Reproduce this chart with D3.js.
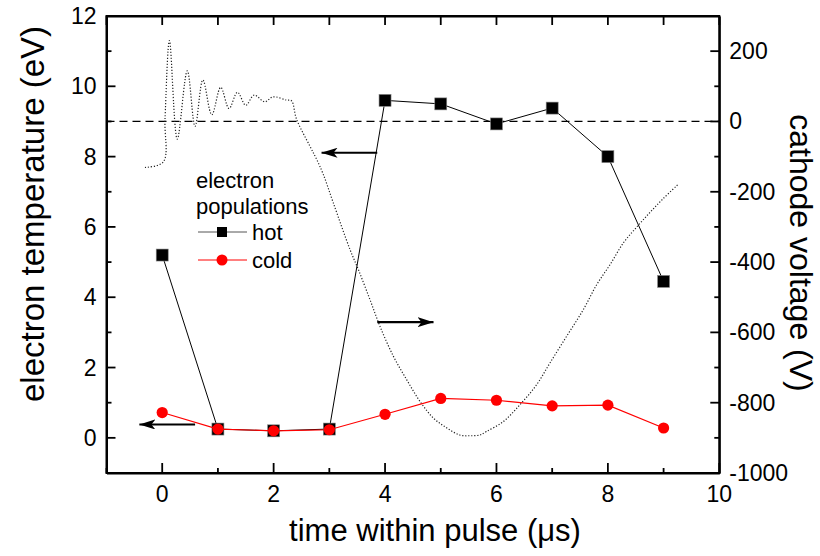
<!DOCTYPE html>
<html><head><meta charset="utf-8">
<script src="https://cdn.jsdelivr.net/npm/d3@7/dist/d3.min.js"></script>
<style>body{margin:0;background:#fff}svg{display:block}text{font-family:"Liberation Sans",Arial,sans-serif}</style>
</head><body><svg id="c" width="820" height="556"></svg>
<script>
// ---- data ----
const times = [0,1,2,3,4,5,6,7,8,9];
const hotTemp = [5.2,0.25,0.2,0.25,9.6,9.5,8.93,9.38,8.0,4.45];
const coldTemp = [0.72,0.25,0.2,0.23,0.67,1.12,1.07,0.91,0.93,0.28];
const voltTime = [-0.31,0.02,0.05,0.13,0.27,0.45,0.59,0.73,0.89,1.05,1.20,1.35,1.50,1.65,1.84,1.99,2.23,2.32,2.41,2.65,2.77,2.89,3.07,3.37,3.52,3.73,3.91,4.15,4.39,4.63,4.87,5.11,5.34,5.52,5.70,5.82,6.12,6.42,6.72,6.96,7.26,7.56,7.80,8.04,8.28,8.52,8.76,8.99,9.26];
const voltValue = [-131,-115,7,230,-50,144,-14,118,19,97,37,83,46,75,56,70,61,59,7,-70,-107,-150,-231,-364,-421,-507,-583,-668,-735,-797,-844,-872,-892,-894,-892,-882,-854,-806,-749,-687,-611,-535,-464,-407,-345,-300,-258,-220,-179];
const xTicks = [0,2,4,6,8,10];
const yLeftTicks = [0,2,4,6,8,10,12];
const yRightTicks = [-1000,-800,-600,-400,-200,0,200];
const zeroVoltLine = 0;
// annotation arrows (time, left-axis temperature)
const arrowStart = [[3.86,8.11],[3.86,3.29],[0.59,0.38]];
const arrowEnd   = [[2.86,8.11],[4.87,3.29],[-0.41,0.38]];
const legendTitle = ["electron","populations"];
const seriesNames = ["hot","cold"];

// ---- layout ----
const L=106.5, R=719.3, T=16, B=473;
const svg=d3.select("#c");
const x=d3.scaleLinear().domain([-1,10]).range([L,R]);
const yL=d3.scaleLinear().domain([-1,12]).range([B,T]);
const yR=d3.scaleLinear().domain([-1000,300]).range([B,T]);

const defs=svg.append("defs");
defs.append("marker").attr("id","ah").attr("viewBox","0 0 16 10").attr("refX",16).attr("refY",5)
 .attr("markerWidth",16).attr("markerHeight",10).attr("markerUnits","userSpaceOnUse").attr("orient","auto")
 .append("path").attr("d","M0,0 L16,5 L0,10 L4,5 Z").attr("fill","#000");

// dashed zero-volt line
svg.append("line").attr("x1",L).attr("x2",R).attr("y1",yR(zeroVoltLine)).attr("y2",yR(zeroVoltLine))
 .attr("stroke","#000").attr("stroke-width",1.3).attr("stroke-dasharray","8,5");

// voltage trace
const vData=voltTime.map((t,i)=>[t,voltValue[i]]);
svg.append("path").datum(vData)
 .attr("d",d3.line().x(d=>x(d[0])).y(d=>yR(d[1])).curve(d3.curveCatmullRom.alpha(0.5)))
 .attr("fill","none").attr("stroke","#222").attr("stroke-width",1.2).attr("stroke-dasharray","1.2,1.8");

// hot series
const hot=times.map((t,i)=>[t,hotTemp[i]]);
const cold=times.map((t,i)=>[t,coldTemp[i]]);
const ln=d3.line().x(d=>x(d[0])).y(d=>yL(d[1]));
svg.append("path").datum(hot).attr("d",ln).attr("fill","none").attr("stroke","#000").attr("stroke-width",1);
svg.selectAll(".sq").data(hot).join("rect").attr("x",d=>x(d[0])-6).attr("y",d=>yL(d[1])-6)
 .attr("width",12).attr("height",12).attr("fill","#000").attr("stroke","#888").attr("stroke-width",0.6);
// cold series
svg.append("path").datum(cold).attr("d",ln).attr("fill","none").attr("stroke","#f00").attr("stroke-width",1.2);
svg.selectAll(".ci").data(cold).join("circle").attr("cx",d=>x(d[0])).attr("cy",d=>yL(d[1])).attr("r",5.6)
 .attr("fill","#f00");

// arrows
arrowStart.forEach((s,i)=>{
  const e=arrowEnd[i];
  svg.append("line").attr("x1",x(s[0])).attr("y1",yL(s[1])).attr("x2",x(e[0])).attr("y2",yL(e[1]))
   .attr("stroke","#000").attr("stroke-width",2.2).attr("marker-end","url(#ah)");
});

// axes
const fs="23px";
const gB=svg.append("g").attr("transform",`translate(0,${B})`).call(d3.axisBottom(x).tickValues([]).tickSize(0));
const gT=svg.append("g").attr("transform",`translate(0,${T})`).call(d3.axisTop(x).tickValues([]).tickSize(0));
const gLa=svg.append("g").attr("transform",`translate(${L},0)`).call(d3.axisLeft(yL).tickValues([]).tickSize(0));
const gRa=svg.append("g").attr("transform",`translate(${R},0)`).call(d3.axisRight(yR).tickValues([]).tickSize(0));
[gB,gT,gLa,gRa].forEach(g=>{g.select(".domain").attr("stroke","#000").attr("stroke-width",2);});
svg.append("rect").attr("x",L).attr("y",T).attr("width",R-L).attr("height",B-T).attr("fill","none").attr("stroke","#000").attr("stroke-width",2);

const tk=svg.append("g").attr("stroke","#000").attr("stroke-width",1.8);
d3.range(-1,11).forEach(v=>{
  const major=v%2===0, len=major?10:5;
  tk.append("line").attr("x1",x(v)).attr("x2",x(v)).attr("y1",B).attr("y2",B-len);
  tk.append("line").attr("x1",x(v)).attr("x2",x(v)).attr("y1",T).attr("y2",T+9);
});
d3.range(-1,13).forEach(v=>{
  const major=v%2===0, len=major?9:5;
  tk.append("line").attr("x1",L).attr("x2",L+len).attr("y1",yL(v)).attr("y2",yL(v));
});
d3.range(-1000,301,100).forEach(v=>{
  const major=v%200===0, len=major?9:5;
  tk.append("line").attr("x1",R).attr("x2",R-len).attr("y1",yR(v)).attr("y2",yR(v));
});

svg.selectAll(".xl").data(xTicks).join("text").attr("x",d=>x(d)).attr("y",B+29).attr("text-anchor","middle")
 .attr("font-size",fs).text(d=>d);
svg.selectAll(".yl").data(yLeftTicks).join("text").attr("x",L-10).attr("y",d=>yL(d)+8).attr("text-anchor","end")
 .attr("font-size",fs).text(d=>d);
svg.selectAll(".yr").data(yRightTicks).join("text").attr("x",R+10).attr("y",d=>yR(d)+8).attr("text-anchor","start")
 .attr("font-size",fs).text(d=>d);

// titles
svg.append("text").attr("x",435).attr("y",541).attr("text-anchor","middle").attr("font-size","31px").text("time within pulse (\u03bcs)");
svg.append("text").attr("transform","translate(44,214) rotate(-90)").attr("text-anchor","middle").attr("font-size","33px").text("electron temperature (eV)");
svg.append("text").attr("transform","translate(790,253) rotate(90)").attr("text-anchor","middle").attr("font-size","32px").text("cathode voltage (V)");

// legend
const lg=svg.append("g");
lg.append("text").attr("x",196).attr("y",188).attr("font-size","22px").text(legendTitle[0]);
lg.append("text").attr("x",196).attr("y",214).attr("font-size","22px").text(legendTitle[1]);
lg.append("line").attr("x1",198).attr("x2",247).attr("y1",232).attr("y2",232).attr("stroke","#555").attr("stroke-width",1);
lg.append("rect").attr("x",217).attr("y",227).attr("width",10).attr("height",10).attr("fill","#000");
lg.append("text").attr("x",252).attr("y",240).attr("font-size","22px").text(seriesNames[0]);
lg.append("line").attr("x1",198).attr("x2",247).attr("y1",260).attr("y2",260).attr("stroke","#f00").attr("stroke-width",1);
lg.append("circle").attr("cx",222).attr("cy",260).attr("r",5.5).attr("fill","#f00");
lg.append("text").attr("x",252).attr("y",268).attr("font-size","22px").text(seriesNames[1]);
</script></body></html>
